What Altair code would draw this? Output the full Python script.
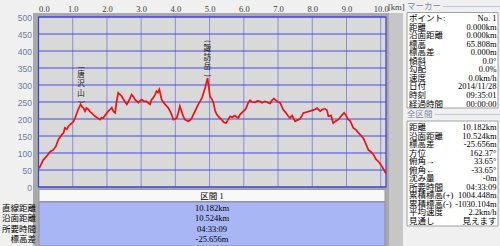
import altair as alt
import pandas as pd

# ---------------- data ----------------
km = [0.02, 0.14, 0.25, 0.34, 0.43, 0.51, 0.58, 0.68, 0.73, 0.77,
      0.83, 0.87, 0.97, 1.02, 1.07, 1.16, 1.23, 1.27, 1.31, 1.36,
      1.40, 1.46, 1.50, 1.55, 1.59, 1.65, 1.71, 1.80, 1.84, 1.89,
      1.97, 2.04, 2.09, 2.14, 2.19, 2.24, 2.28, 2.33, 2.38, 2.43,
      2.50, 2.58, 2.62, 2.67, 2.72, 2.78, 2.82, 2.88, 2.92, 2.97,
      3.02, 3.08, 3.16, 3.21, 3.26, 3.30, 3.35, 3.40, 3.45, 3.49,
      3.53, 3.57, 3.60, 3.64, 3.70, 3.79, 3.84, 3.89, 3.94, 3.99,
      4.04, 4.09, 4.13, 4.18, 4.23, 4.28, 4.38, 4.43, 4.48, 4.55,
      4.62, 4.68, 4.72, 4.78, 4.87, 4.94, 4.98, 5.01, 5.07, 5.11,
      5.16, 5.21, 5.28, 5.35, 5.42, 5.48, 5.54, 5.60, 5.66, 5.74,
      5.80, 5.84, 5.89, 5.99, 6.06, 6.12, 6.18, 6.24, 6.33, 6.39,
      6.47, 6.53, 6.62, 6.71, 6.77, 6.82, 6.88, 6.94, 7.00, 7.06,
      7.15, 7.23, 7.30, 7.35, 7.41, 7.50, 7.55, 7.64, 7.70, 7.74,
      7.82, 7.93, 8.02, 8.08, 8.14, 8.23, 8.29, 8.37, 8.43, 8.47,
      8.55, 8.61, 8.69, 8.76, 8.84, 8.93, 8.99, 9.05, 9.10, 9.20,
      9.28, 9.35, 9.42, 9.49, 9.54, 9.64, 9.72, 9.79, 9.86, 9.93,
      10.01, 10.07, 10.15]
elev = [55, 80, 92, 104, 109, 120, 139, 154, 158, 174,
        170, 178, 188, 192, 203, 228, 243, 236, 233, 223,
        232, 228, 222, 218, 214, 208, 204, 198, 204, 203,
        214, 223, 228, 233, 222, 218, 250, 277, 272, 267,
        255, 243, 250, 260, 272, 265, 257, 252, 248, 254,
        257, 252, 252, 247, 243, 256, 262, 270, 282, 278,
        287, 270, 257, 251, 243, 233, 224, 213, 198, 200,
        203, 220, 238, 223, 208, 198, 193, 197, 203, 218,
        233, 245, 252, 263, 292, 320, 290, 267, 258, 248,
        225, 213, 205, 198, 190, 188, 198, 208, 205, 210,
        205, 203, 213, 223, 230, 246, 255, 250, 249, 253,
        252, 248, 252, 248, 246, 255, 260, 255, 250, 248,
        228, 218, 208, 203, 210, 193, 196, 200, 210, 218,
        220, 223, 226, 228, 232, 223, 228, 230, 226, 208,
        210, 188, 194, 198, 208, 218, 210, 198, 196, 174,
        168, 159, 152, 144, 133, 109, 103, 95, 82, 75,
        65, 55, 40]

x_ticks = [0, 1, 2, 3, 4, 5, 6, 7, 8, 9, 10]
y_ticks = [0, 50, 100, 150, 200, 250, 300, 350, 400, 450, 500]
x_unit = "[km]"

peak_names = ["唐沢山", "諏訪岳"]
peak_km = [1.24, 4.93]
peak_elev = [243, 320]

section_title = "区間 1"
section_labels = ["直線距離", "沿面距離", "所要時間", "標高差"]
section_values = ["10.182km", "10.524km", "04:33:09", "-25.656m"]

marker_title = "マーカー"
marker_labels = ["ポイント:", "距離", "沿面距離", "標高", "標高差", "傾斜",
                 "勾配", "速度", "日付", "時刻", "経過時間"]
marker_values = ["No. 1", "0.000km", "0.000km", "65.808m", "0.000m", "0.0°",
                 "0.0%", "0.0km/h", "2014/11/28", "09:35:01", "00:00:00"]

total_title = "全区間"
total_labels = ["距離", "沿面距離", "標高差", "方位", "俯角→", "俯角←", "沈み量",
                "所要時間", "累積標高(+)", "累積標高(-)", "平均速度", "見通し"]
total_values = ["10.182km", "10.524km", "-25.656m", "162.37°", "33.65°", "-33.65°",
                "-0m", "04:33:09", "1004.448m", "-1030.104m", "2.2km/h", "見えます"]

# ---------------- layout / style ----------------
W, H = 347.5, 170
XMAX = 10.155
FONT = "'Liberation Serif', 'Noto Sans CJK JP'"
JP = "'Noto Sans CJK JP'"
ONE = pd.DataFrame({"k": [0]})

xs = alt.Scale(domain=[0, XMAX], nice=False, zero=False)
ys = alt.Scale(domain=[0, 500], nice=False)
X_AXIS = alt.Axis(orient="top", values=x_ticks, format=".1f", grid=False,
                  ticks=False, domain=False, labelFontSize=8.5,
                  labelFont="Liberation Serif", labelColor="#3a3a3a",
                  labelPadding=4, labelOverlap=False, title=None)

profile = pd.DataFrame({"km": km, "elev": elev})
peaks = pd.DataFrame({"km": peak_km, "elev": peak_elev,
                      "chars": ["\n".join(list(n)) for n in peak_names],
                      "op": ["("] * len(peak_names),
                      "cl": [")"] * len(peak_names)})


def box(x1, x2, y1, y2, fill, stroke=None):
    kw = dict(fill=fill)
    if stroke:
        kw.update(stroke=stroke, strokeWidth=1)
    return alt.Chart(ONE).mark_rect(**kw).encode(
        x=alt.value(x1), x2=alt.value(x2), y=alt.value(y1), y2=alt.value(y2))


def hline(x1, x2, y, color):
    return alt.Chart(ONE).mark_rule(color=color, strokeWidth=1).encode(
        x=alt.value(x1), x2=alt.value(x2), y=alt.value(y))


def label(txt, x, y, color="#000000", align="left", size=8.5, font=FONT):
    return alt.Chart(ONE).mark_text(align=align, baseline="middle", fontSize=size,
                                    font=font, color=color).encode(
        x=alt.value(x), y=alt.value(y), text=alt.value(txt))


def rows(labels, values, y1, y2, xl, xr, align_l="left", align_r="right", size=8.5):
    df = pd.DataFrame({"row": list(range(len(labels))), "lab": labels, "val": values})
    yenc = alt.Y("row:O", axis=None,
                 scale=alt.Scale(type="point", range=[y1, y2], padding=0))
    a = alt.Chart(df).mark_text(align=align_l, baseline="middle", fontSize=size,
                                font=FONT, color="#000000").encode(
        x=alt.value(xl), y=yenc, text="lab:N")
    b = alt.Chart(df).mark_text(align=align_r, baseline="middle", fontSize=size,
                                font=FONT, color="#000000").encode(
        x=alt.value(xr), y=yenc, text="val:N")
    return [a, b]


def peak_text(field, baseline, shift, angle=0, size=7.5):
    kw = dict(lineBreak="\n", baseline=baseline, align="center", fontSize=size,
              lineHeight=9.4, font=JP, color="#202020")
    if angle:
        # rotated 90 deg clockwise: the text's own x direction points down the page
        kw.update(angle=angle, dx=shift)
    else:
        kw.update(dy=shift)
    return alt.Chart(peaks).mark_text(**kw).encode(
        x=alt.X("km:Q", scale=xs, axis=X_AXIS),
        y=alt.Y("elev:Q", scale=ys, axis=None),
        text=f"{field}:N")


layers = []
# frame around chart + table, splitter strip
layers.append(box(350.5, 364.5, -4, 229, "#c6c6c6"))
layers.append(box(-5.5, 350.5, -4, 229, "#a9a9a9"))
layers.append(box(0, W, 0, H, "#d9d9d9"))

# grid
layers.append(alt.Chart(pd.DataFrame({"t": x_ticks})).mark_rule(
    color="#8c8cd8", strokeWidth=1).encode(
    x=alt.X("t:Q", scale=xs, axis=X_AXIS), y=alt.value(0), y2=alt.value(H)))
layers.append(alt.Chart(pd.DataFrame({"t": y_ticks})).mark_rule(
    color="#4a4ae0", strokeWidth=1).encode(
    y=alt.Y("t:Q", scale=ys, axis=None), x=alt.value(0), x2=alt.value(W)))
layers.append(alt.Chart(ONE).mark_rect(fill="transparent", stroke="#3c3cd8",
                                       strokeWidth=1.2).encode(
    x=alt.value(0), x2=alt.value(W), y=alt.value(0), y2=alt.value(H)))

# profile line
layers.append(alt.Chart(profile).mark_line(color="#f01010", strokeWidth=1.7).encode(
    x=alt.X("km:Q", scale=xs, axis=X_AXIS),
    y=alt.Y("elev:Q", scale=ys, title=None,
            axis=alt.Axis(values=y_ticks, grid=False, ticks=False, domain=False,
                          labelFontSize=8.5, labelFont="Liberation Sans",
                          labelColor="#6c7a9c", labelPadding=7, labelOverlap=False)),
))

# vertical peak names: rotated brackets above and below stacked characters
layers.append(peak_text("op", "middle", -37, angle=90, size=7))
layers.append(peak_text("chars", "top", -33.5))
layers.append(peak_text("cl", "middle", -2.5, angle=90, size=7))

layers.append(label(x_unit, 349.5, -10, color="#3a3a3a", size=8.5))

# section table under the chart
layers.append(box(0.5, 346.5, 172.5, 184.5, "#f8f8f8", "#9a9a9a"))
layers.append(box(0.5, 346.5, 185, 229, "#a8b6f6", "#8a8aa8"))
layers.append(label(section_title, 173.5, 178.5, align="center"))
layers += rows(section_labels, section_values, 190.7, 222.3, -2.5, 173.5,
               align_l="right", align_r="center")

# right panel
layers.append(hline(364.5, 364.5, -17, "#ffffff"))
layers.append(label(marker_title, 368.5, -11, color="#7a88a8", font=JP, size=8.5))
layers.append(hline(404, 461.5, -10.5, "#c0c8d8"))
layers.append(box(368.5, 459.5, -4.5, 91, "#ffffff", "#a0a0a0"))
layers += rows(marker_labels, marker_values, 1, 86.5, 370.5, 458)
layers.append(label(total_title, 368.5, 97, color="#7a88a8", font=JP, size=8.5))
layers.append(hline(396, 461.5, 97.5, "#c0c8d8"))
layers.append(box(368.5, 459.5, 104, 209, "#ffffff", "#a0a0a0"))
layers += rows(total_labels, total_values, 110, 204, 370.5, 458)

chart = alt.layer(*layers).resolve_scale(y="independent").properties(
    width=W, height=H,
    padding={"left": 38.5, "top": 17, "right": 114, "bottom": 59},
    autosize=alt.AutoSizeParams(type="none"),
    background="#f0f0f0",
).configure_view(strokeOpacity=0, fill="transparent")

chart.save("out.html", embed_options={"renderer": "svg", "actions": False})
